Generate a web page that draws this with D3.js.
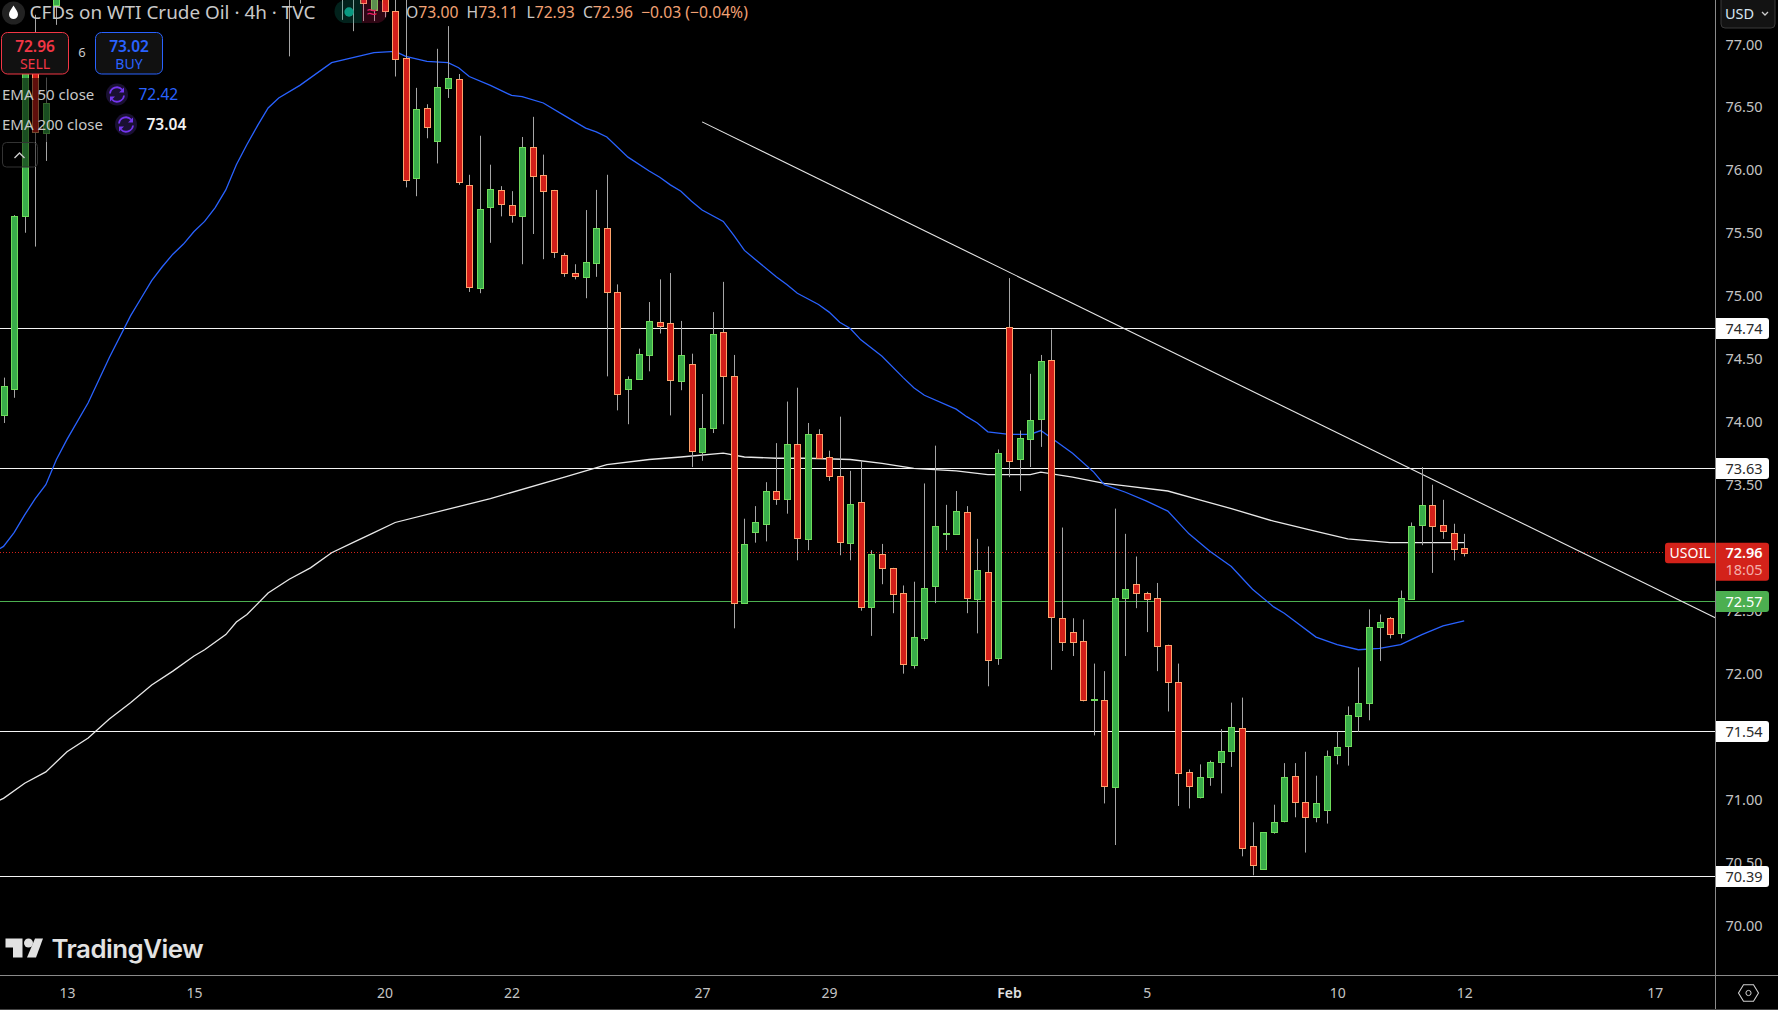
<!DOCTYPE html>
<html><head><meta charset="utf-8">
<script src="https://cdn.jsdelivr.net/npm/d3@7"></script>
<style>
html,body{margin:0;padding:0;background:#000;overflow:hidden}
svg{display:block}
text{font-family:"Noto Sans",sans-serif}
</style></head><body>
<script>
// ---- Data (null: candle lies entirely above the visible range) ----
const opens=[74.05,74.26,75.63,76.79,76.29,77.31,null,null,null,null,null,null,null,null,null,null,null,null,null,null,null,null,null,null,null,null,null,77.60,77.80,null,null,null,77.60,77.70,77.60,77.27,77.55,77.26,76.89,75.93,76.49,76.23,76.65,76.72,75.88,75.06,75.71,75.84,75.72,75.63,76.18,75.96,75.84,75.32,75.18,75.15,75.26,75.54,75.03,74.26,74.34,74.53,74.79,74.78,74.32,74.46,73.76,73.95,74.71,74.36,72.56,73.12,73.19,73.45,73.38,73.82,73.07,73.90,73.72,73.57,73.04,73.36,72.53,72.95,72.84,72.64,72.07,72.28,72.69,73.12,73.11,73.28,72.59,72.81,72.12,74.75,73.70,73.86,74.02,74.49,72.44,72.33,72.26,71.79,71.79,71.10,72.60,72.71,72.64,72.60,72.23,71.93,71.22,71.02,71.18,71.30,71.39,71.57,70.63,70.45,70.74,70.83,71.19,70.98,70.86,70.92,71.36,71.42,71.67,71.77,72.37,72.44,72.32,72.59,73.18,73.34,73.18,73.12,73.00];
const highs=[74.35,75.64,76.95,77.23,76.73,77.70,null,null,null,null,null,null,null,null,null,null,null,null,null,null,null,null,null,null,null,null,null,78.00,78.00,null,null,null,77.90,77.90,77.80,77.60,77.70,77.50,77.40,76.65,76.52,76.96,77.14,76.76,75.96,76.27,76.04,75.87,75.83,76.26,76.42,76.12,75.84,75.34,75.25,75.68,75.84,75.96,75.09,74.36,74.58,74.95,75.13,75.18,74.80,74.54,74.22,74.87,75.11,74.53,73.23,73.33,73.52,73.83,74.16,74.27,73.99,73.94,73.77,74.04,73.61,73.69,72.98,73.03,72.84,72.70,72.73,73.51,73.81,73.34,73.45,73.33,73.07,73.01,73.78,75.14,73.93,74.38,74.53,74.73,73.16,72.44,72.43,72.08,72.02,73.31,73.11,72.93,72.65,72.72,72.23,72.08,71.24,71.28,71.31,71.56,71.77,71.81,70.82,70.74,70.96,71.29,71.29,71.38,71.19,71.39,71.54,71.74,72.05,72.51,72.47,72.45,72.66,73.20,73.64,73.50,73.38,73.19,73.11];
const lows=[73.99,74.19,75.50,75.39,76.07,77.15,null,null,null,null,null,null,null,null,null,null,null,null,null,null,null,null,null,null,null,null,null,76.90,77.32,null,null,null,77.19,77.10,77.18,77.18,77.21,76.74,75.86,75.79,76.25,76.05,76.57,75.88,75.03,75.02,75.42,75.63,75.58,75.25,75.49,75.29,75.30,75.15,75.13,74.98,75.15,74.36,74.09,73.98,74.34,74.40,74.70,74.05,74.25,73.64,73.69,73.91,73.98,72.36,72.56,73.04,73.05,73.34,73.27,72.90,72.98,73.71,73.53,72.94,72.90,72.50,72.30,72.71,72.48,72.00,72.04,72.26,72.56,72.98,73.11,72.48,72.32,71.90,72.07,73.56,73.45,73.64,73.80,72.03,72.18,72.14,71.78,71.51,70.97,70.64,72.14,72.52,72.33,72.02,71.70,70.95,70.93,71.01,71.11,71.05,71.26,70.55,70.40,70.45,70.73,70.82,70.86,70.58,70.82,70.81,71.28,71.27,71.54,71.63,72.10,72.28,72.28,72.59,73.02,72.80,73.07,72.90,72.93];
const closes=[74.28,75.63,76.87,76.30,76.53,77.58,null,null,null,null,null,null,null,null,null,null,null,null,null,null,null,null,null,null,null,null,null,77.80,77.55,null,null,null,77.70,77.50,77.32,77.50,77.26,76.88,75.92,76.48,76.34,76.66,76.73,75.90,75.07,75.69,75.85,75.73,75.64,76.18,75.95,75.83,75.35,75.18,75.16,75.27,75.54,75.03,74.22,74.34,74.54,74.80,74.76,74.33,74.53,73.77,73.95,74.70,74.36,72.56,73.03,73.20,73.45,73.39,73.82,73.07,73.90,73.71,73.57,73.05,73.35,72.53,72.95,72.84,72.63,72.08,72.29,72.68,73.17,73.12,73.29,72.60,72.82,72.11,73.75,73.69,73.87,74.01,74.48,72.45,72.25,72.25,71.79,71.80,71.11,72.60,72.67,72.64,72.59,72.22,71.94,71.21,71.11,71.18,71.30,71.39,71.58,70.62,70.48,70.74,70.82,71.18,70.98,70.86,70.97,71.35,71.42,71.67,71.77,72.37,72.41,72.31,72.60,73.17,73.34,73.17,73.13,72.99,72.96];

const ema50Bars=[-1,0,1,2,3,4,5,6,8,10,12,13,14,15,16,17,18,19,20,21,22,23,24,25,26,28,31,33,35,37,38,40,42,43,44,46,48,49,51,53,54,55,56,57,59,61,62,63,64,65,66,68,69,70,71,73,74,75,77,78,79,80,81,83,85,86,87,90,91,92,93,95,97,98,99,101,103,104,106,108,110,112,114,116,118,120,121,124,126,128,130,132,134,136,138];
const ema50=[72.96,73.01,73.12,73.26,73.39,73.50,73.70,73.86,74.15,74.51,74.84,74.98,75.12,75.23,75.33,75.41,75.51,75.59,75.70,75.84,76.04,76.20,76.35,76.49,76.57,76.67,76.85,76.89,76.93,76.94,76.90,76.86,76.85,76.81,76.74,76.67,76.59,76.58,76.53,76.43,76.38,76.33,76.30,76.26,76.10,75.99,75.94,75.88,75.83,75.75,75.68,75.59,75.48,75.36,75.29,75.15,75.09,75.02,74.93,74.87,74.79,74.74,74.65,74.52,74.35,74.27,74.21,74.10,74.04,73.99,73.92,73.90,73.90,73.93,73.87,73.75,73.60,73.50,73.44,73.37,73.29,73.11,72.97,72.85,72.67,72.53,72.48,72.29,72.23,72.19,72.20,72.23,72.31,72.38,72.42];
const ema200Bars=[-1,0,2,4,6,8,10,12,14,16,18,19,21,22,23,25,27,29,31,33,35,37,46,53,57,61,64,68,70,73,76,80,83,86,90,93,95,97,98,101,104,106,110,113,116,120,124,127,131,133,138];
const ema200=[70.97,71.01,71.13,71.22,71.38,71.49,71.64,71.77,71.91,72.02,72.14,72.19,72.31,72.41,72.47,72.64,72.75,72.84,72.96,73.04,73.12,73.20,73.39,73.56,73.66,73.70,73.72,73.75,73.72,73.71,73.71,73.70,73.67,73.63,73.61,73.58,73.58,73.58,73.60,73.56,73.51,73.49,73.45,73.38,73.31,73.21,73.13,73.07,73.04,73.04,73.04];

const whiteLevels=[74.74,73.63,71.54,70.39];
const greenLevel=72.57;
const lastPrice=72.96;
const trendBars=[66,161.8];
const trendPrices=[76.38,72.44];
const priceTicks=[70,70.5,71,71.5,72,72.5,73,73.5,74,74.5,75,75.5,76,76.5,77];
const dateBars=[6,18,36,48,66,78,95,108,126,138,156];
const dateLabels=["13","15","20","22","27","29","Feb","5","10","12","17"];

// ---- Scales ----
const W=1778,H=1010,plotR=1715,plotB=975;
const x=d3.scaleLinear().domain([0,138]).range([3.5,1464.2]);
const y=d3.scaleLinear().domain([70,77]).range([925.63,43.77]);
const px=v=>Math.round(v)+.5;
const lv=v=>Math.floor(v)+.5;

const svg=d3.select("body").append("svg").attr("width",W).attr("height",H);
svg.append("rect").attr("width",W).attr("height",H).attr("fill","#000");
svg.append("defs").append("clipPath").attr("id","plot").append("rect").attr("width",plotR).attr("height",plotB);
const plot=svg.append("g").attr("clip-path","url(#plot)");

// levels
plot.selectAll(".lvl").data(whiteLevels).join("line").attr("class","lvl")
  .attr("x1",0).attr("x2",plotR).attr("y1",d=>lv(y(d))).attr("y2",d=>lv(y(d))).attr("stroke","#f4f4f4");
plot.append("line").attr("x1",0).attr("x2",plotR).attr("y1",lv(y(greenLevel))).attr("y2",lv(y(greenLevel))).attr("stroke","#4caf50");
plot.append("line").attr("x1",0).attr("x2",1665).attr("y1",lv(y(lastPrice))).attr("y2",lv(y(lastPrice)))
  .attr("stroke","#d3221a").attr("stroke-dasharray","1 2");

// trend line
plot.append("line").attr("x1",x(trendBars[0])).attr("y1",y(trendPrices[0])).attr("x2",x(trendBars[1])).attr("y2",y(trendPrices[1]))
  .attr("stroke","#e6e6e6").attr("stroke-width",1.1);

// EMAs
const ema=(bars,vals,col,w)=>plot.append("path")
  .attr("d",d3.line().x(d=>x(d[0])).y(d=>y(d[1])).curve(d3.curveLinear)(bars.map((b,i)=>[b,vals[i]])))
  .attr("fill","none").attr("stroke",col).attr("stroke-width",w);
ema(ema200Bars,ema200,"#e8e8e8",1.3);
ema(ema50Bars,ema50,"#2962ff",1.3);

// candles
const idx=d3.range(opens.length).filter(i=>opens[i]!==null);
plot.selectAll(".wick").data(idx).join("line").attr("class","wick")
  .attr("x1",i=>Math.round(x(i))+.5).attr("x2",i=>Math.round(x(i))+.5)
  .attr("y1",i=>y(highs[i])).attr("y2",i=>y(lows[i])).attr("stroke","#a6a6a6");
plot.selectAll(".body").data(idx).join("rect").attr("class","body")
  .attr("x",i=>Math.round(x(i))-2.5).attr("width",6)
  .attr("y",i=>px(y(Math.max(opens[i],closes[i]))))
  .attr("height",i=>Math.max(Math.round(Math.abs(y(opens[i])-y(closes[i]))),1))
  .attr("fill",i=>closes[i]>=opens[i]?"#39ac4a":"#d4201a")
  .attr("stroke",i=>closes[i]>=opens[i]?"#6fdc5c":"#ffa36c");

// axes
const axisCol="#8a8a8a";
svg.append("line").attr("x1",plotR+.5).attr("x2",plotR+.5).attr("y1",0).attr("y2",H).attr("stroke",axisCol);
svg.append("line").attr("x1",0).attr("x2",W).attr("y1",975.5).attr("y2",975.5).attr("stroke",axisCol);
svg.append("line").attr("x1",0).attr("x2",W).attr("y1",1009.5).attr("y2",1009.5).attr("stroke","#444");

const ya=svg.append("g").attr("transform",`translate(${plotR},0)`)
  .call(d3.axisRight(y).tickValues(priceTicks).tickSize(0).tickPadding(0).tickFormat(d3.format(".2f")));
ya.select(".domain").remove();
ya.selectAll("text").attr("x",29).attr("text-anchor","middle").attr("fill","#c4c4c4")
  .style("font-size","14.5px").style("font-family",'"Noto Sans"').attr("dy",".36em");

const xa=svg.append("g").attr("transform",`translate(0,${plotB})`)
  .call(d3.axisBottom(x).tickValues(dateBars).tickSize(0).tickFormat((d,i)=>dateLabels[i]));
xa.select(".domain").remove();
xa.selectAll("text").attr("y",18).attr("dy",".36em").attr("fill",(d,i)=>dateLabels[i]==="Feb"?"#e2e2e2":"#c4c4c4")
  .style("font-size","14px").style("font-family",'"Noto Sans"').style("font-weight",(d,i)=>dateLabels[i]==="Feb"?600:400);

// price tags
const tag=(p,fill,tcol,label)=>{
  const c=lv(y(p));
  svg.append("path").attr("d",`M1716 ${c-10.5}H1766a3 3 0 0 1 3 3V${c+7.5}a3 3 0 0 1-3 3H1716Z`).attr("fill",fill);
  svg.append("text").attr("x",1744).attr("y",c+5.2).attr("text-anchor","middle").attr("fill",tcol)
    .style("font-size","14.5px").text(label);
};
whiteLevels.forEach(p=>tag(p,"#ffffff","#2a2a2a",p.toFixed(2)));
tag(greenLevel,"#4caf50","#ffffff",greenLevel.toFixed(2));
const ly=y(lastPrice);
svg.append("path").attr("d",`M1716 ${ly-10}H1766a3 3 0 0 1 3 3V${ly+25}a3 3 0 0 1-3 3H1716Z`).attr("fill","#d3221a");
svg.append("path").attr("d",`M1715 ${ly-10}H1668a3 3 0 0 0-3 3V${ly+7.500}a3 3 0 0 0 3 3H1715Z`).attr("fill","#d3221a");
svg.append("text").attr("x",1690).attr("y",ly+5.2).attr("text-anchor","middle").attr("fill","#fff").style("font-size","14px").text("USOIL");
svg.append("text").attr("x",1744).attr("y",ly+5.2).attr("text-anchor","middle").attr("fill","#fff").style("font-size","14.5px").style("font-weight",600).text(lastPrice.toFixed(2));
svg.append("text").attr("x",1744).attr("y",ly+22.5).attr("text-anchor","middle").attr("fill","#f3b0ac").style("font-size","14.5px").text("18:05");

// USD button and settings hexagon
svg.append("rect").attr("x",1721).attr("y",-6).attr("width",54).attr("height",34).attr("rx",4).attr("fill","#131313").attr("stroke","#3a3a3a");
svg.append("text").attr("x",1725).attr("y",19).attr("fill","#d8e6f2").style("font-size","14.5px").text("USD");
svg.append("path").attr("d","M1762 12l3 3 3-3").attr("fill","none").attr("stroke","#ccc").attr("stroke-width",1.3);
svg.append("path").attr("d","M1738.5 993l5-8.3h10l5 8.3-5 8.3h-10z").attr("fill","none").attr("stroke","#d0d0d0").attr("stroke-width",1.1);
svg.append("circle").attr("cx",1748.5).attr("cy",993).attr("r",2.6).attr("fill","none").attr("stroke","#d0d0d0");

// legend dim areas
svg.append("rect").attr("x",0).attr("y",78).attr("width",188).attr("height",64).attr("fill","rgba(0,0,0,.55)");

// title row
svg.append("circle").attr("cx",13.5).attr("cy",13).attr("r",11.5).attr("fill","#222");
svg.append("path").attr("d","M13.5 5.5C11 9.5 9 11.500 9 14.500a4.500 4.500 0 0 0 9 0C18 11.500 16 9.500 13.500 5.500Z").attr("fill","#fff");
svg.append("text").attr("x",29.500).attr("y",19).attr("fill","#c8c8c8").style("font-size","18.9px").text("CFDs on WTI Crude Oil · 4h · TVC");
svg.append("path").attr("d","M362 0H346a11.500 11.500 0 0 0 0 23H362Z").attr("fill","rgba(8,153,129,.22)");
svg.append("path").attr("d","M362 0H376a11.500 11.500 0 0 1 0 23H362Z").attr("fill","rgba(233,30,99,.2)");
svg.append("circle").attr("cx",349).attr("cy",12).attr("r",4.700).attr("fill","#089981");
svg.append("text").attr("x",372).attr("y",18).attr("text-anchor","middle").attr("fill","#e91e63").style("font-size","18px").text("≈");
const ohlc=svg.append("text").attr("x",406).attr("y",18).style("font-size","15.7px").attr("fill","#c8c8c8");
[["O","#c8c8c8"],["73.00 ","#f2a274"],[" H","#c8c8c8"],["73.11 ","#f2a274"],[" L","#c8c8c8"],["72.93 ","#f2a274"],[" C","#c8c8c8"],["72.96 ","#f2a274"],[" −0.03 (−0.04%)","#f2a274"]]
  .forEach(d=>ohlc.append("tspan").attr("fill",d[1]).attr("xml:space","preserve").text(d[0]));

// buy / sell
const btn=(bx,col,price,lab)=>{
  svg.append("rect").attr("x",bx).attr("y",32.500).attr("width",67).attr("height",41.500).attr("rx",6).attr("fill","#111").attr("stroke",col).attr("stroke-width",1);
  svg.append("text").attr("x",bx+33.500).attr("y",51.500).attr("text-anchor","middle").attr("fill",col).style("font-size","15.500px").style("font-weight",600).text(price);
  svg.append("text").attr("x",bx+33.500).attr("y",68.500).attr("text-anchor","middle").attr("fill",col).style("font-size","14px").text(lab);
};
btn(1.500,"#f23645","72.96","SELL");
btn(95.500,"#2962ff","73.02","BUY");
svg.append("text").attr("x",82).attr("y",57).attr("text-anchor","middle").attr("fill","#c8c8c8").style("font-size","13px").text("6");

// EMA legend rows
const refresh=(cx,cy)=>{
  svg.append("circle").attr("cx",cx).attr("cy",cy).attr("r",11).attr("fill","#1a1033");
  svg.append("path").attr("d",`M${cx-7} ${cy-1}a7 7 0 0 1 12-4M${cx+7} ${cy+1}a7 7 0 0 1-12 4`).attr("fill","none").attr("stroke","#7435f0").attr("stroke-width",1.800);
  svg.append("path").attr("d",`M${cx+7} ${cy-7}v5h-5zM${cx-7} ${cy+7}v-5h5z`).attr("fill","#7435f0");
};
svg.append("text").attr("x",2).attr("y",100).attr("fill","#c8c8c8").style("font-size","15px").text("EMA 50 close");
refresh(117,94.500);
svg.append("text").attr("x",138.500).attr("y",100).attr("fill","#2962ff").style("font-size","15.500px").text("72.42");
svg.append("text").attr("x",2).attr("y",130).attr("fill","#c8c8c8").style("font-size","15px").text("EMA 200 close");
refresh(126,124.500);
svg.append("text").attr("x",146.500).attr("y",130).attr("fill","#f0f0f0").style("font-size","15.500px").style("font-weight",600).text("73.04");
svg.append("rect").attr("x",2.500).attr("y",142.500).attr("width",35).attr("height",24.500).attr("rx",4).attr("fill","rgba(0,0,0,.45)").attr("stroke","#333");
svg.append("path").attr("d","M14.500 158l5-5 5 5").attr("fill","none").attr("stroke","#ccc").attr("stroke-width",1.400);

// watermark
const wm=svg.append("g").attr("fill","#e2e2e2");
wm.append("path").attr("d","M5.500 938.500H22.500V957.500H13V947.500H5.500Z");
wm.append("circle").attr("cx",28.500).attr("cy",943).attr("r",4.500);
wm.append("path").attr("d","M35 938.500H43L36 957.500H27Z");
wm.append("text").attr("x",51.500).attr("y",958).style("font-family","Inter").style("font-size","25.8px").style("font-weight",600).style("letter-spacing","-.5px").text("TradingView");
</script>
</body></html>
